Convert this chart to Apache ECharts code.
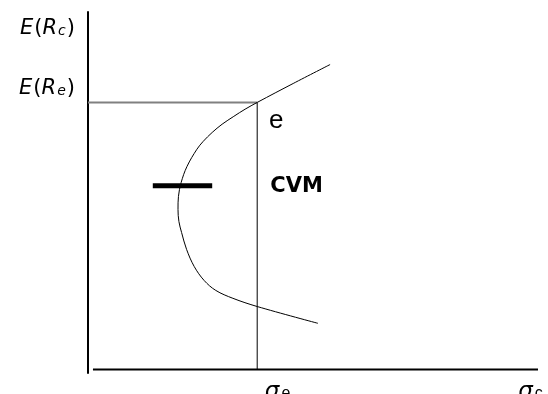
<!DOCTYPE html>
<html><head><meta charset="utf-8">
<script src="https://cdn.jsdelivr.net/npm/echarts@6/dist/echarts.min.js"></script>
<style>html,body{margin:0;padding:0;background:#fff}#c{width:548px;height:394px}</style>
</head><body><div id="c"></div>
<script>
// Efficient frontier (sigma, expected return) in chart units
const frontierSigma  = [53.8, 45.6, 37.6, 34.9, 32.4, 29.8, 27.6, 25.6, 24.2, 22.0, 20.7, 20.1, 20.0, 20.2, 20.8, 21.9, 23.6, 25.8, 28.4, 32.2, 37.6, 51.1];
const frontierReturn = [85.3, 80.0, 74.7, 72.8, 70.8, 68.6, 66.3, 63.8, 61.6, 56.8, 52.3, 48.4, 44.8, 41.4, 38.3, 33.6, 28.8, 24.9, 22.1, 19.9, 17.6, 12.9];
// Point e
const pointE = [37.6, 74.7];
// Minimum-variance marker bar
const cvmBarSigma = [14.4, 27.6];
const cvmBarReturn = 51.4;
// Axis extent
const xAxisSpan = [1.1, 100];
const yAxisSpan = [-1, 100];
// Text annotations
const labelTexts = ['E(Rc)', 'E(Re)', 'e', 'CVM', 'σe', 'σc'];
const labelX     = [-2.9, -2.9, 40.2, 40.5, 39.3, 95.6];
const labelY     = [95.5, 78.5, 69.6, 51.3, -6.2, -6.2];

const SANS = 'DejaVu Sans, sans-serif';
const ARIAL = 'Liberation Sans, Arial, sans-serif';
const richE = {
  i: {fontStyle: 'italic', fontSize: 21, fontFamily: SANS, color: '#000', padding: [0, 1, 0, 0]},
  n: {fontSize: 21, fontFamily: SANS, color: '#000'},
  s: {fontStyle: 'italic', fontSize: 14, fontFamily: SANS, color: '#000', padding: [6, 1, 0, 0]},
  e: {fontSize: 26, fontFamily: ARIAL, color: '#000'},
  b: {fontSize: 21, fontWeight: 'bold', fontFamily: SANS, color: '#000'},
  g: {fontSize: 23, fontStyle: 'italic', fontFamily: SANS, color: '#000'},
  gs: {fontSize: 16, fontFamily: ARIAL, color: '#000', padding: [4, 0, 0, 2]}
};
function fmt(t) {
  switch (t) {
    case 'E(Rc)': return '{i|E}{n|(}{i|R}{s|c}{n|)}';
    case 'E(Re)': return '{i|E}{n|(}{i|R}{s|e}{n|)}';
    case 'e': return '{e|e}';
    case 'CVM': return '{b|CVM}';
    case 'σe': return '{g|σ}{gs|e}';
    case 'σc': return '{g|σ}{gs|c}';
  }
  return t;
}
const labelData = labelTexts.map((t, k) => ({
  value: [labelX[k], labelY[k]],
  name: t,
  label: {
    show: true,
    position: 'inside',
    align: k < 2 ? 'right' : 'left',
    verticalAlign: 'middle',
    color: '#000',
    textBorderWidth: 0,
    formatter: fmt(t),
    rich: richE
  }
}));

const chart = echarts.init(document.getElementById('c'));
chart.setOption({
  animation: false,
  grid: {left: 88, right: 10, top: 12, bottom: 21},
  xAxis: {type: 'value', min: 0, max: 100, axisLine: {show: false}, axisTick: {show: false}, axisLabel: {show: false}, splitLine: {show: false}},
  yAxis: {type: 'value', min: yAxisSpan[0], max: yAxisSpan[1],
    axisLine: {show: true, onZero: false, lineStyle: {color: '#000', width: 2}},
    axisTick: {show: false}, axisLabel: {show: false}, splitLine: {show: false}},
  series: [
    {type: 'line', data: [[xAxisSpan[0], 0], [xAxisSpan[1], 0]], symbol: 'none', clip: false,
     lineStyle: {color: '#000', width: 2}},
    {type: 'line', data: [[0, pointE[1]], pointE], symbol: 'none', clip: false,
     lineStyle: {color: '#808080', width: 2}},
    {type: 'line', data: [[pointE[0], 0], pointE], symbol: 'none', clip: false,
     lineStyle: {color: '#000', width: 1}},
    {type: 'line', data: frontierSigma.map((s, k) => [s, frontierReturn[k]]), symbol: 'none', smooth: 0.35,
     clip: false, lineStyle: {color: '#000', width: 1}},
    {type: 'line', data: cvmBarSigma.map(s => [s, cvmBarReturn]), symbol: 'none', clip: false,
     lineStyle: {color: '#000', width: 5}},
    {type: 'scatter', data: labelData, symbolSize: 0, clip: false, itemStyle: {opacity: 1}}
  ]
});
</script></body></html>
